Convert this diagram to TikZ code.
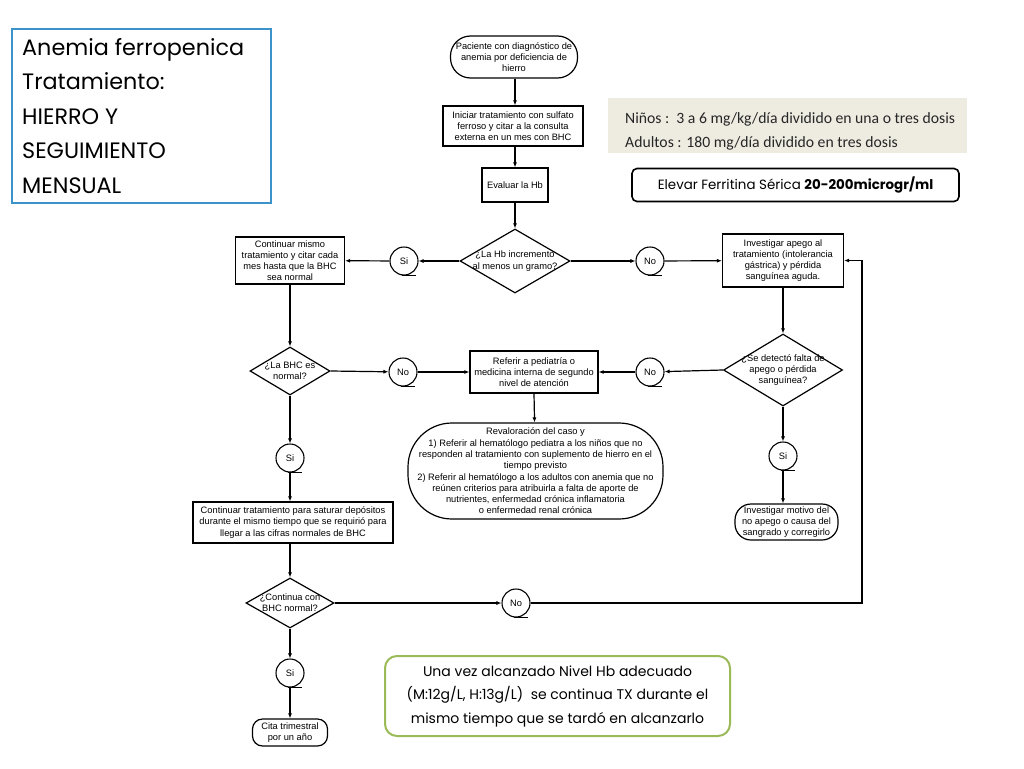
\documentclass[tikz,border=0pt]{standalone}
\usepackage{fontspec}
\setmainfont{Liberation Sans}
\newfontfamily\gothic{Poppins}
\newfontfamily\calib{Carlito}
\usetikzlibrary{shapes.geometric,arrows.meta,calc}
\definecolor{bluebox}{HTML}{3C93C9}
\definecolor{beige}{HTML}{EEEBE1}
\definecolor{olive}{HTML}{9BBB59}
\begin{document}
\begin{tikzpicture}[x=1pt,y=-1pt,
  fc/.style={font=\fontsize{9.3}{11.2}\selectfont, align=center, inner sep=1pt},
  box/.style={fc, draw, line width=1.2pt, rectangle},
  term/.style={fc, draw, line width=1.2pt, rectangle, rounded corners=14pt},
  dia/.style={draw, line width=1.2pt, diamond, inner sep=0pt},
  conn/.style={draw, line width=1.1pt, circle, minimum size=28pt, inner sep=0pt, font=\fontsize{9.3}{10}\selectfont},
  arr/.style={line width=1.2pt, -{Latex[length=5pt,width=4pt]}},
  ln/.style={line width=1.2pt}
]
\useasboundingbox (0,0) rectangle (1024,768);
\fill[white] (0,0) rectangle (1024,768);

% title box
\node[draw=bluebox, line width=1.8pt, minimum width=259pt, minimum height=174pt, inner sep=0pt] (title) at (141.5,116) {};
\node[font=\gothic\fontsize{22.3}{34.5}\selectfont, align=left, anchor=north west, inner sep=0pt] (titletxt) at (22,38) {Anemia ferropenica\\Tratamiento:\\HIERRO Y\\SEGUIMIENTO\\MENSUAL};

% dosage box
\node[fill=beige, minimum width=359pt, minimum height=55pt, inner sep=0pt] (dose) at (787.5,125.5) {};
\node[font=\calib\fontsize{15.7}{24}\selectfont, align=left, anchor=west, inner sep=0pt, text=black!85] (dosetxt) at (625,131) {Niños :\ \ 3 a 6 mg/kg/día dividido en una o tres dosis\\Adultos : 180 mg/día dividido en tres dosis};

% ferritin box
\node[draw, line width=1.6pt, rounded corners=5pt, minimum width=327pt, minimum height=33pt, inner sep=0pt, font=\gothic\fontsize{13.4}{15}\selectfont] (ferr) at (795.5,185) {Elevar Ferritina Sérica \textbf{20-200microgr/ml}};

% green note
\node[draw=olive, line width=2pt, rounded corners=12pt, minimum width=345pt, minimum height=80pt, inner sep=0pt, align=center, font=\gothic\fontsize{14}{23.5}\selectfont] (note) at (557.5,696) {Una vez alcanzado Nivel Hb adecuado\\(M:12g/L, H:13g/L)\ \ se continua TX durante el\\mismo tiempo que se tardó en alcanzarlo};

% flowchart nodes
\node[term, minimum width=127pt, minimum height=42pt, rounded corners=20pt] (start) at (514,57) {Paciente con diagnóstico de\\anemia por deficiencia de\\hierro};
\node[box, minimum width=140pt, minimum height=40pt] (b2) at (513,126) {Iniciar tratamiento con sulfato\\ferroso y citar a la consulta\\externa en un mes con BHC};
\node[box, minimum width=66pt, minimum height=34pt] (b3) at (515,185) {Evaluar la Hb};

\node[dia, minimum width=110pt, minimum height=64pt] (d1) at (515,261) {};
\node[fc] (d1t) at (d1) {¿La Hb incremento\\al menos un gramo?};

\node[conn] (si1) at (404,261) {Si};
\node[box, minimum width=109pt, minimum height=47pt] (bl) at (290,260.5) {Continuar mismo\\tratamiento y citar cada\\mes hasta que la BHC\\sea normal};
\node[conn] (no1) at (650,261) {No};
\node[box, minimum width=121pt, minimum height=53pt] (br) at (783,260.5) {Investigar apego al\\tratamiento (intolerancia\\gástrica) y pérdida\\sanguínea aguda.};

\node[dia, minimum width=119pt, minimum height=72pt] (d2) at (783,370) {};
\node[fc] (d2t) at (d2) {¿Se detectó falta de\\apego o pérdida\\sanguínea?};
\node[conn] (no2) at (650,372) {No};
\node[box, minimum width=128pt, minimum height=42pt] (bm) at (534,372) {Referir a pediatría o\\medicina interna de segundo\\nivel de atención};
\node[conn] (no3) at (403,372) {No};

\node[dia, minimum width=80pt, minimum height=48pt] (d3) at (290,371) {};
\node[fc] (d3t) at (d3) {¿La BHC es\\normal?};
\node[conn] (si3) at (290,458) {Si};
\node[box, minimum width=200pt, minimum height=41pt] (bs) at (293,522.5) {Continuar tratamiento para saturar depósitos\\durante el mismo tiempo que se requirió para\\llegar a las cifras normales de BHC};
\node[dia, minimum width=88pt, minimum height=50pt] (d4) at (290,603) {};
\node[fc] (d4t) at (d4) {¿Continua con\\BHC normal?};
\node[conn] (no4) at (516,603) {No};
\node[conn] (si4) at (290,673) {Si};
\node[term, minimum width=75pt, minimum height=27pt, rounded corners=10pt] (cita) at (290,732.5) {Cita trimestral\\por un año};

\node[term, minimum width=255pt, minimum height=96pt, rounded corners=44pt, font=\fontsize{9.3}{11.3}\selectfont] (rev) at (535.5,471) {Revaloración del caso y\\1) Referir al hematólogo pediatra a los niños que no\\responden al tratamiento con suplemento de hierro en el\\tiempo previsto\\2) Referir al hematólogo a los adultos con anemia que no\\reúnen criterios para atribuirla a falta de aporte de\\nutrientes, enfermedad crónica inflamatoria\\o enfermedad renal crónica};

\node[conn] (si2) at (783,456) {Si};
\node[term, minimum width=103pt, minimum height=36pt, rounded corners=16pt] (tr) at (786.5,522) {Investigar motivo del\\no apego o causa del\\sangrado y corregirlo};

% connector tails
\foreach \c in {si1,no1,no2,no3,si3,no4,si4,si2}
  \draw[ln] ($(\c.south)+(-2,0)$) -- ++(14,0);

% connectors
\draw[arr] (start.south -| b3) -- (b2.north -| b3);
\draw[arr] (b2.south -| b3) -- (b3);
\draw[arr] (b3) -- (d1);
\draw[arr] (d1.west) -- (si1);
\draw[arr] (si1) -- (bl);
\draw[arr] (d1.east) -- (no1);
\draw[arr] (no1) -- (br);
\draw[arr] (bl) -- (d3);
\draw[arr] (d3.east) -- (no3);
\draw[arr] (no3) -- (bm.west |- no3);
\draw[arr] (br) -- (d2);
\draw[arr] (d2.west) -- (no2);
\draw[arr] (no2) -- (bm.east |- no2);
\draw[arr] (bm.south -| 534,0) -- (rev);
\draw[arr] (d2) -- (si2);
\draw[arr] (si2) -- (si2 |- tr.north);
\draw[arr] (d3) -- (si3);
\draw[arr] (si3) -- (si3 |- bs.north);
\draw[arr] (bs.south -| d4) -- (d4);
\draw[arr] (d4.east) -- (no4);
\draw[arr] (d4) -- (si4);
\draw[arr] (si4) -- (cita);
\coordinate (loop) at (862,603);
\draw[arr] (no4) -- (loop) |- (br.east);
\end{tikzpicture}
\end{document}
